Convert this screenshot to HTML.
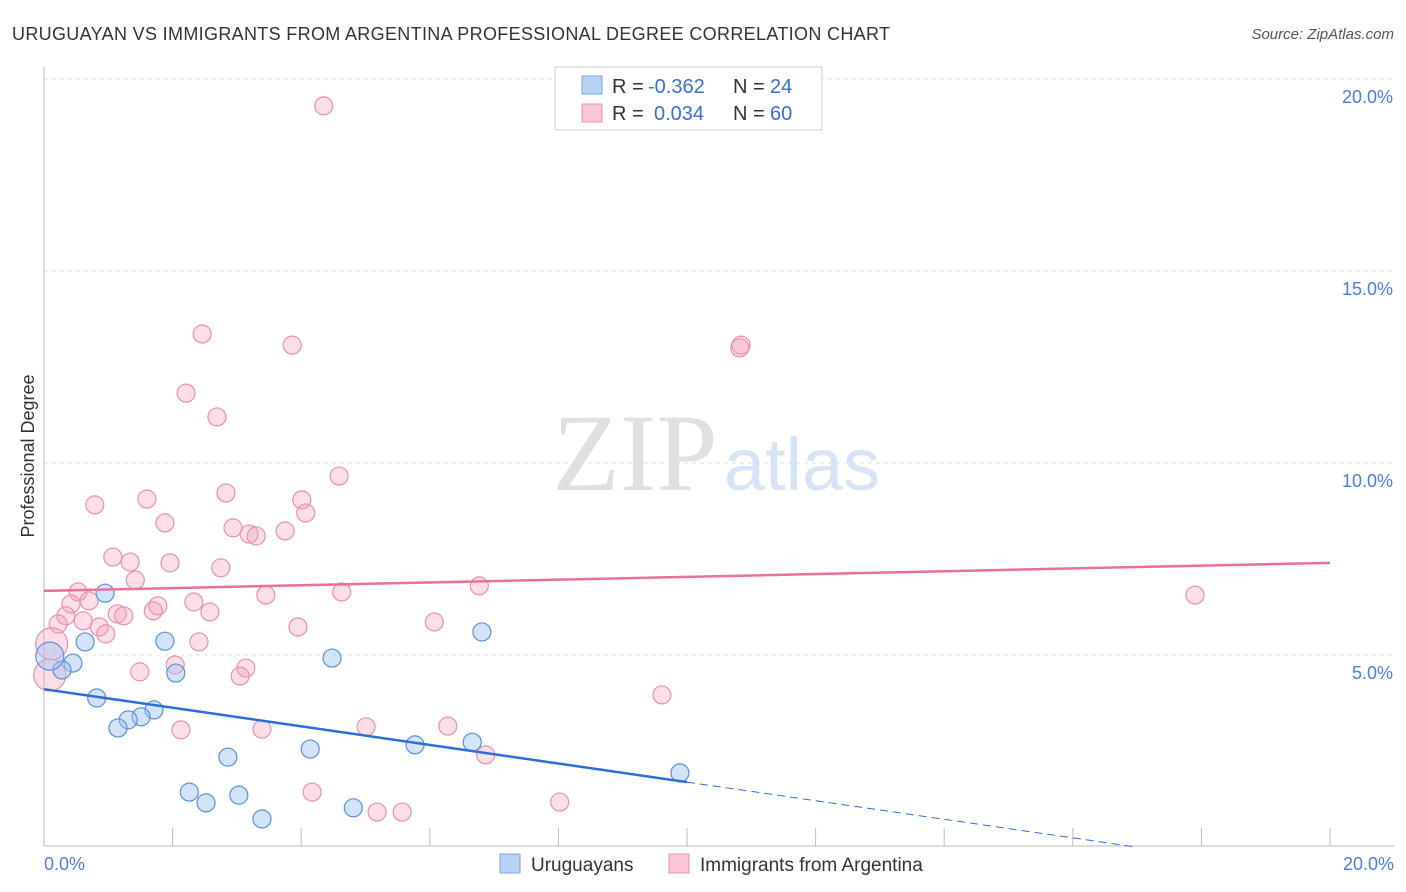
<!DOCTYPE html>
<html><head><meta charset="utf-8"><style>
body{margin:0;background:#fff;font-family:"Liberation Sans",sans-serif}
svg{display:block}
</style></head><body>
<svg id="c" width="1406" height="892" xmlns="http://www.w3.org/2000/svg">
<text x="12" y="40" font-size="18" fill="#333" textLength="878">URUGUAYAN VS IMMIGRANTS FROM ARGENTINA PROFESSIONAL DEGREE CORRELATION CHART</text>
<text x="1394" y="39" font-size="15" fill="#555" font-style="italic" text-anchor="end">Source: ZipAtlas.com</text>
<text x="34" y="456" font-size="18" fill="#333" text-anchor="middle" transform="rotate(-90 34 456)">Professional Degree</text>
<g>
<text x="635" y="490" font-size="110" fill="#e0e0e0" font-family="Liberation Serif,serif" text-anchor="middle">ZIP</text>
<text x="802" y="490" font-size="74" fill="#d6e4f5" text-anchor="middle">atlas</text>
</g>
<g id="grid"></g><g id="axes"></g><g id="pts"></g><g id="lines"></g>
<g>
<rect x="555" y="67" width="267" height="63" fill="#fff" stroke="#ccc"/>
<rect x="582" y="76" width="20" height="18" fill="#b9d3f5" stroke="#7aa6e0"/>
<text x="612" y="93" font-size="20" fill="#333">R =</text>
<text x="648" y="93" font-size="20" fill="#3a6fd0">-0.362</text>
<text x="733" y="93" font-size="20" fill="#333">N =</text>
<text x="770" y="93" font-size="20" fill="#3a6fd0">24</text>
<rect x="582" y="104" width="20" height="18" fill="#f8c6d4" stroke="#e893ad"/>
<text x="612" y="120" font-size="20" fill="#333">R =</text>
<text x="654" y="120" font-size="20" fill="#3a6fd0">0.034</text>
<text x="733" y="120" font-size="20" fill="#333">N =</text>
<text x="770" y="120" font-size="20" fill="#3a6fd0">60</text>
</g>
<g>
<rect x="500" y="854" width="20" height="19" fill="#b9d3f5" stroke="#7aa6e0"/>
<text x="531" y="871" font-size="19" fill="#333">Uruguayans</text>
<rect x="669" y="854" width="20" height="19" fill="#f8c6d4" stroke="#e893ad"/>
<text x="700" y="871" font-size="19" fill="#333">Immigrants from Argentina</text>
</g>
</svg>
<script>
const blueX=[0.95,0.64,0.45,0.28,0.09,0.82,1.88,2.05,1.71,1.51,1.31,1.15,4.48,6.81,2.86,4.14,5.77,6.66,9.89,2.26,2.52,3.03,3.39,4.81];
const blueY=[6.61,5.34,4.79,4.61,4.97,3.88,5.36,4.53,3.57,3.39,3.31,3.10,4.92,5.60,2.34,2.55,2.66,2.73,1.93,1.43,1.15,1.35,0.73,1.02];
const pinkX=[4.35,2.46,3.86,10.84,10.82,2.21,2.69,4.59,0.79,1.60,2.83,4.01,4.07,1.88,2.94,3.19,3.30,3.75,1.07,1.34,1.96,2.75,1.42,0.53,0.70,0.42,0.34,0.22,0.61,0.86,0.96,1.14,1.24,1.70,1.77,2.33,2.58,3.45,4.63,6.77,3.95,6.07,2.41,2.04,1.49,3.14,3.05,0.12,0.09,17.9,9.61,2.13,3.39,5.01,6.28,6.87,4.17,5.18,5.57,8.02];
const pinkY=[19.30,13.36,13.07,13.07,13.0,11.82,11.20,9.66,8.91,9.06,9.22,9.04,8.70,8.44,8.31,8.15,8.10,8.23,7.55,7.42,7.40,7.27,6.95,6.64,6.41,6.33,6.02,5.81,5.89,5.73,5.55,6.07,6.02,6.15,6.28,6.38,6.12,6.56,6.64,6.80,5.73,5.86,5.34,4.74,4.56,4.66,4.45,5.29,4.48,6.56,3.96,3.05,3.07,3.13,3.15,2.40,1.43,0.91,0.91,1.17];
const blueTrend=[4.11,1.69]; // y at x=0 and x=10
const pinkTrend=[6.67,7.40]; // y at x=0 and x=20
const yTicks=[5,10,15,20];
const yTickLabels=["5.0%","10.0%","15.0%","20.0%"];
const xTicks=[0,2,4,6,8,10,12,14,16,18,20];
const NS="http://www.w3.org/2000/svg";
const X=v=>44+v*64.3, Y=v=>847-v*38.4;
function mk(tag,at,parent){const e=document.createElementNS(NS,tag);for(const k in at)e.setAttribute(k,at[k]);document.getElementById(parent).appendChild(e);return e;}
yTicks.forEach((t,i)=>{
 const l=mk('line',{x1:44,x2:1394,y1:Y(t),y2:Y(t),stroke:'#ddd','stroke-dasharray':'4,4'},'grid');
 
 
 const tx=mk('text',{x:1393,y:Y(t)+24,'font-size':18,fill:'#4a7fd8','text-anchor':'end'},'grid');
 tx.textContent=yTickLabels[i];
 
 
});
let a=mk('line',{x1:44,x2:44,y1:67,y2:846,stroke:'#bbb'},'axes');


a=mk('line',{x1:44,x2:1394,y1:846,y2:846,stroke:'#bbb'},'axes');


xTicks.forEach(t=>{
 if(t===0)return;
 const l=mk('line',{x1:X(t),x2:X(t),y1:828,y2:846,stroke:'#bbb'},'axes');
 
 
});
let t0=mk('text',{x:44,y:870,'font-size':18,fill:'#4a7fd8'},'axes');t0.textContent='0.0%';


let t1=mk('text',{x:1394,y:870,'font-size':18,fill:'#4a7fd8','text-anchor':'end'},'axes');t1.textContent='20.0%';


pinkX.forEach((v,i)=>{
 const c=mk('circle',{cx:X(v),cy:Y(pinkY[i]),r:v<0.15?16:9,fill:'rgba(244,160,185,0.35)',stroke:'#e990ab','stroke-width':1.2},'pts');
 
 
});
blueX.forEach((v,i)=>{
 const c=mk('circle',{cx:X(v),cy:Y(blueY[i]),r:v<0.15?14:9,fill:'rgba(160,196,240,0.45)',stroke:'#5b8fdc','stroke-width':1.2},'pts');
 
 
});
let l=mk('line',{x1:X(0),y1:Y(pinkTrend[0]),x2:X(20),y2:Y(pinkTrend[1]),stroke:'#e8709a','stroke-width':2.5},'lines');


const slope=(blueTrend[1]-blueTrend[0])/10;
l=mk('line',{x1:X(0),y1:Y(blueTrend[0]),x2:X(10),y2:Y(blueTrend[1]),stroke:'#2a6fd8','stroke-width':2.5},'lines');


const xe=-blueTrend[0]/slope;
l=mk('line',{x1:X(10),y1:Y(blueTrend[1]),x2:X(xe),y2:Y(0),stroke:'#2a6fd8','stroke-width':1,'stroke-dasharray':'8,5'},'lines');


</script>
</body></html>
